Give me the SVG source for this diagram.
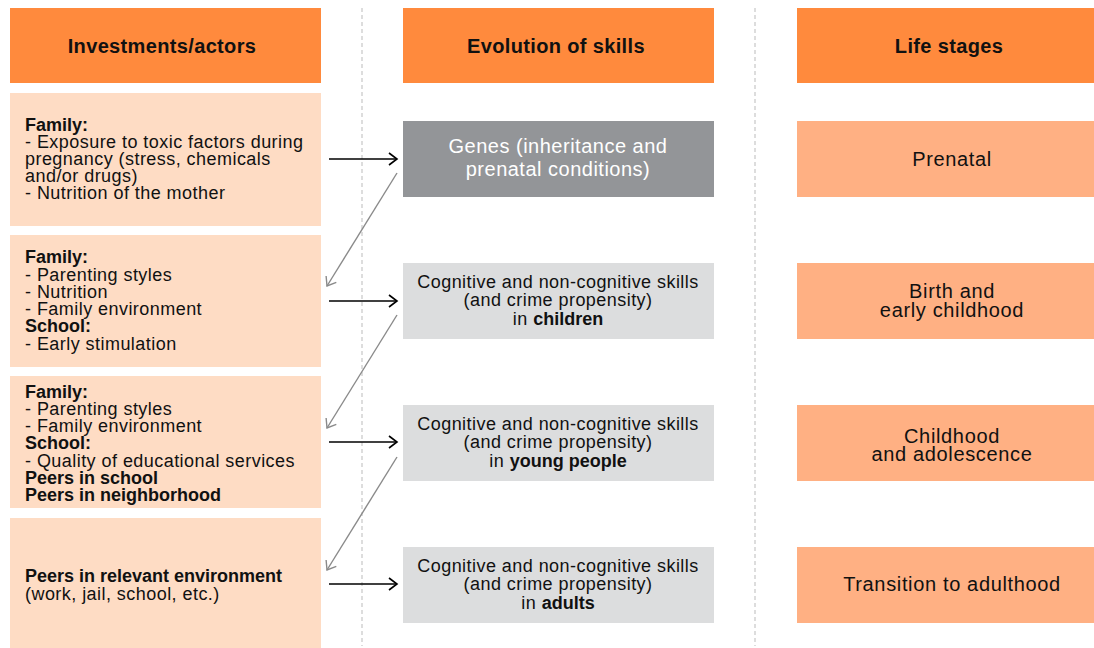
<svg xmlns="http://www.w3.org/2000/svg" width="1094" height="648" viewBox="0 0 1094 648">
<style>
.hdr{fill:#FF8A3D}
.act{fill:#FEDCC4}
.stg{fill:#FFB083}
.gen{fill:#939598}
.skl{fill:#DCDDDE}
text{font-family:"Liberation Sans",Arial,sans-serif;fill:#111}
.h{font-size:20px;letter-spacing:0.35px;font-weight:bold;text-anchor:middle}
.a{font-size:18px;letter-spacing:0.45px}
.b{font-weight:bold;letter-spacing:0px}
.m{font-size:18px;letter-spacing:0.45px;text-anchor:middle}
.g{font-size:20px;letter-spacing:0.5px;text-anchor:middle;fill:#fff}
.s{font-size:20px;letter-spacing:0.65px;text-anchor:middle}
.dash{stroke:#bbb;stroke-width:1;stroke-dasharray:4,3}
.blk{stroke:#000;stroke-width:1.6;fill:none;marker-end:url(#ab)}
.gry{stroke:#8a8a8a;stroke-width:1.4;fill:none;marker-end:url(#ag)}
</style>
<defs>
<marker id="ab" markerWidth="12" markerHeight="14" refX="9" refY="7" orient="auto" markerUnits="userSpaceOnUse"><path d="M1,1 L9,7 L1,13" fill="none" stroke="#000" stroke-width="1.6"/></marker>
<marker id="ag" markerWidth="12" markerHeight="14" refX="9" refY="7" orient="auto" markerUnits="userSpaceOnUse"><path d="M1,1 L9,7 L1,13" fill="none" stroke="#8a8a8a" stroke-width="1.4"/></marker>
</defs>
<rect width="1094" height="648" fill="#fff"/>
<g id="dividers">
<line class="dash" x1="362" y1="8" x2="362" y2="646"/>
<line class="dash" x1="755" y1="8" x2="755" y2="646"/>
</g>
<g id="hdr-investments"><rect class="hdr" x="10" y="8" width="311" height="75"/><text class="h" x="162" y="53">Investments/actors</text></g>
<g id="hdr-evolution"><rect class="hdr" x="403" y="8" width="311" height="75"/><text class="h" x="556" y="53">Evolution of skills</text></g>
<g id="hdr-stages"><rect class="hdr" x="797" y="8" width="297" height="75"/><text class="h" x="949" y="53">Life stages</text></g>

<g id="act1"><rect class="act" x="10" y="93" width="311" height="133"/>
<text class="a" x="25"><tspan class="b" x="25" y="131">Family:</tspan><tspan x="25" y="148">- Exposure to toxic factors during</tspan><tspan x="25" y="165">pregnancy (stress, chemicals</tspan><tspan x="25" y="182">and/or drugs)</tspan><tspan x="25" y="199">- Nutrition of the mother</tspan></text></g>
<g id="act2"><rect class="act" x="10" y="235" width="311" height="132"/>
<text class="a" x="25"><tspan class="b" x="25" y="263">Family:</tspan><tspan x="25" y="281">- Parenting styles</tspan><tspan x="25" y="298">- Nutrition</tspan><tspan x="25" y="315">- Family environment</tspan><tspan class="b" x="25" y="332">School:</tspan><tspan x="25" y="350">- Early stimulation</tspan></text></g>
<g id="act3"><rect class="act" x="10" y="376" width="311" height="132"/>
<text class="a" x="25"><tspan class="b" x="25" y="398">Family:</tspan><tspan x="25" y="415">- Parenting styles</tspan><tspan x="25" y="432">- Family environment</tspan><tspan class="b" x="25" y="449">School:</tspan><tspan x="25" y="467">- Quality of educational services</tspan><tspan class="b" x="25" y="484">Peers in school</tspan><tspan class="b" x="25" y="501">Peers in neighborhood</tspan></text></g>
<g id="act4"><rect class="act" x="10" y="518" width="311" height="130"/>
<text class="a" x="25"><tspan class="b" x="25" y="582">Peers in relevant environment</tspan><tspan x="25" y="600">(work, jail, school, etc.)</tspan></text></g>

<g id="genes"><rect class="gen" x="403" y="121" width="311" height="76"/>
<text class="g"><tspan x="558" y="153">Genes (inheritance and</tspan><tspan x="558" y="176">prenatal conditions)</tspan></text></g>
<g id="skills-children"><rect class="skl" x="403" y="263" width="311" height="76"/>
<text class="m"><tspan x="558" y="288">Cognitive and non-cognitive skills</tspan><tspan x="558" y="306">(and crime propensity)</tspan><tspan x="558" y="325">in <tspan class="b">children</tspan></tspan></text></g>
<g id="skills-young"><rect class="skl" x="403" y="405" width="311" height="76"/>
<text class="m"><tspan x="558" y="430">Cognitive and non-cognitive skills</tspan><tspan x="558" y="448">(and crime propensity)</tspan><tspan x="558" y="467">in <tspan class="b">young people</tspan></tspan></text></g>
<g id="skills-adults"><rect class="skl" x="403" y="547" width="311" height="76"/>
<text class="m"><tspan x="558" y="572">Cognitive and non-cognitive skills</tspan><tspan x="558" y="590">(and crime propensity)</tspan><tspan x="558" y="609">in <tspan class="b">adults</tspan></tspan></text></g>

<g id="stage-prenatal"><rect class="stg" x="797" y="121" width="297" height="76"/><text class="s" x="952" y="166">Prenatal</text></g>
<g id="stage-birth"><rect class="stg" x="797" y="263" width="297" height="76"/><text class="s"><tspan x="952" y="298">Birth and</tspan><tspan x="952" y="317">early childhood</tspan></text></g>
<g id="stage-childhood"><rect class="stg" x="797" y="405" width="297" height="76"/><text class="s"><tspan x="952" y="443">Childhood</tspan><tspan x="952" y="461">and adolescence</tspan></text></g>
<g id="stage-transition"><rect class="stg" x="797" y="547" width="297" height="76"/><text class="s" x="952" y="591">Transition to adulthood</text></g>

<g id="connectors">
<line class="blk" x1="329" y1="159" x2="397" y2="159"/>
<line class="blk" x1="329" y1="301" x2="397" y2="301"/>
<line class="blk" x1="329" y1="442" x2="397" y2="442"/>
<line class="blk" x1="329" y1="584" x2="397" y2="584"/>
<line class="gry" x1="397" y1="173" x2="327" y2="286"/>
<line class="gry" x1="397" y1="315" x2="327" y2="428"/>
<line class="gry" x1="397" y1="457" x2="327" y2="570"/>
</g>
</svg>
